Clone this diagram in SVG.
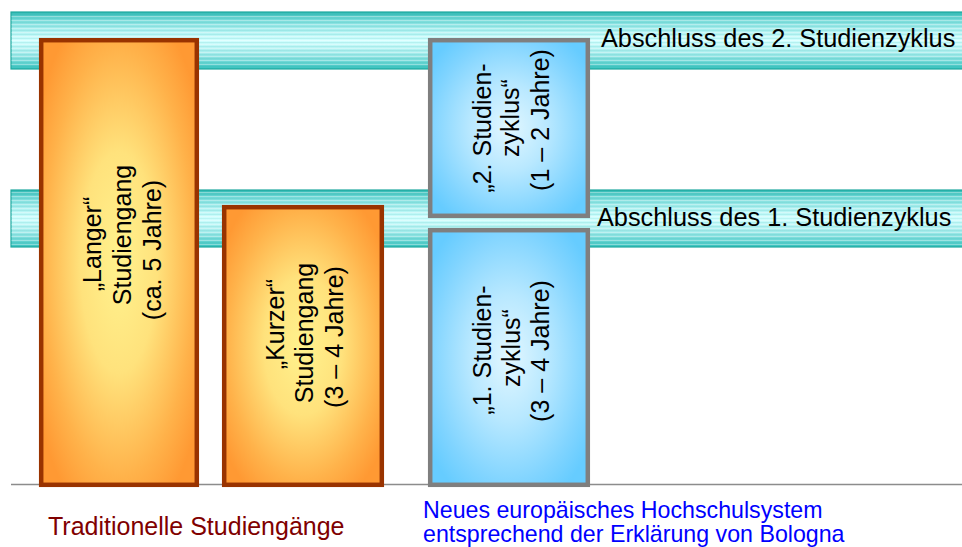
<svg xmlns="http://www.w3.org/2000/svg" width="962" height="547" viewBox="0 0 962 547">
  <defs>
    <linearGradient id="bandFill" x1="0" y1="0" x2="0" y2="1">
      <stop offset="0" stop-color="#2fb8b2"/>
      <stop offset="0.12" stop-color="#6fd8d6"/>
      <stop offset="0.3" stop-color="#a8eeee"/>
      <stop offset="0.5" stop-color="#d2ffff"/>
      <stop offset="0.72" stop-color="#a6ecec"/>
      <stop offset="0.88" stop-color="#6ad6d4"/>
      <stop offset="1" stop-color="#36c0bc"/>
    </linearGradient>
    <pattern id="bandStripes" width="8" height="4" patternUnits="userSpaceOnUse">
      <rect x="0" y="0" width="8" height="1" fill="#ffffff" opacity="0.35"/>
      <rect x="0" y="2" width="8" height="1" fill="#1aa6a0" opacity="0.12"/>
    </pattern>
    <radialGradient id="orangeFill" cx="0.5" cy="0.5" r="0.62">
      <stop offset="0" stop-color="#fff28e"/>
      <stop offset="0.4" stop-color="#ffe27c"/>
      <stop offset="0.78" stop-color="#ffb24a"/>
      <stop offset="1" stop-color="#ff9933"/>
    </radialGradient>
    <radialGradient id="blueFill" cx="0.5" cy="0.5" r="0.62">
      <stop offset="0" stop-color="#e2f7ff"/>
      <stop offset="0.4" stop-color="#b8e8ff"/>
      <stop offset="0.8" stop-color="#80d4ff"/>
      <stop offset="1" stop-color="#66ccff"/>
    </radialGradient>
  </defs>
  <style>
    .band { fill: url(#bandFill); stroke: #1fa89f; stroke-width: 1.2; }
    .stripes { fill: url(#bandStripes); }
    .bandText { font-family: "Liberation Sans", Arial, sans-serif; font-size: 25.3px; fill: #000000; }
    .oldBox { fill: url(#orangeFill); stroke: #993300; stroke-width: 4.5; }
    .newBox { fill: url(#blueFill); stroke: #7f7f7f; stroke-width: 4.5; }
    .boxText { font-family: "Liberation Sans", Arial, sans-serif; font-size: 25px; fill: #000000; text-anchor: middle; }
    .caption { font-family: "Liberation Sans", Arial, sans-serif; }
  </style>

  <!-- degree levels -->
  <g id="level-2">
    <rect class="band" x="11" y="12" width="960" height="57"/>
    <rect class="stripes" x="11.5" y="13" width="960" height="55"/>
    <text class="bandText" x="601" y="47">Abschluss des 2. Studienzyklus</text>
  </g>
  <g id="level-1">
    <rect class="band" x="11" y="190" width="960" height="57"/>
    <rect class="stripes" x="11.5" y="191" width="960" height="55"/>
    <text class="bandText" x="597" y="226">Abschluss des 1. Studienzyklus</text>
  </g>

  <!-- ground line -->
  <g id="connectors">
    <line x1="11" y1="484.5" x2="962" y2="484.5" stroke="#8c8c8c" stroke-width="1.6"/>
  </g>

  <!-- traditional programmes -->
  <g id="long-programme">
    <rect class="oldBox" x="41.2" y="40.2" width="155.6" height="444.6"/>
    <text class="boxText" transform="translate(101,244) rotate(-90)">„Langer“</text>
    <text class="boxText" transform="translate(131,235) rotate(-90)">Studiengang</text>
    <text class="boxText" transform="translate(161,250) rotate(-90)">(ca. 5 Jahre)</text>
  </g>
  <g id="short-programme">
    <rect class="oldBox" x="224.2" y="207.2" width="157.6" height="277.6"/>
    <text class="boxText" transform="translate(284,324) rotate(-90)">„Kurzer“</text>
    <text class="boxText" transform="translate(313,333) rotate(-90)">Studiengang</text>
    <text class="boxText" transform="translate(343,337) rotate(-90)">(3 – 4 Jahre)</text>
  </g>

  <!-- Bologna cycles -->
  <g id="cycle-2">
    <rect class="newBox" x="430.2" y="40.2" width="157.6" height="175.6"/>
    <text class="boxText" transform="translate(491,128) rotate(-90)">„2. Studien-</text>
    <text class="boxText" transform="translate(519,118) rotate(-90)">zyklus“</text>
    <text class="boxText" transform="translate(549,120) rotate(-90)">(1 – 2 Jahre)</text>
  </g>
  <g id="cycle-1">
    <rect class="newBox" x="430.2" y="230.2" width="157.6" height="254.6"/>
    <text class="boxText" transform="translate(491,350) rotate(-90)">„1. Studien-</text>
    <text class="boxText" transform="translate(520,348) rotate(-90)">zyklus“</text>
    <text class="boxText" transform="translate(549,351) rotate(-90)">(3 – 4 Jahre)</text>
  </g>

  <!-- captions -->
  <g id="caption-traditional">
    <text class="caption" x="48" y="535" font-size="25px" fill="#800000">Traditionelle Studiengänge</text>
  </g>
  <g id="caption-bologna">
    <text class="caption" x="423" y="518" font-size="23.2px" fill="#0000ff">Neues europäisches Hochschulsystem</text>
    <text class="caption" x="423" y="542" font-size="23.2px" fill="#0000ff">entsprechend der Erklärung von Bologna</text>
  </g>
</svg>
